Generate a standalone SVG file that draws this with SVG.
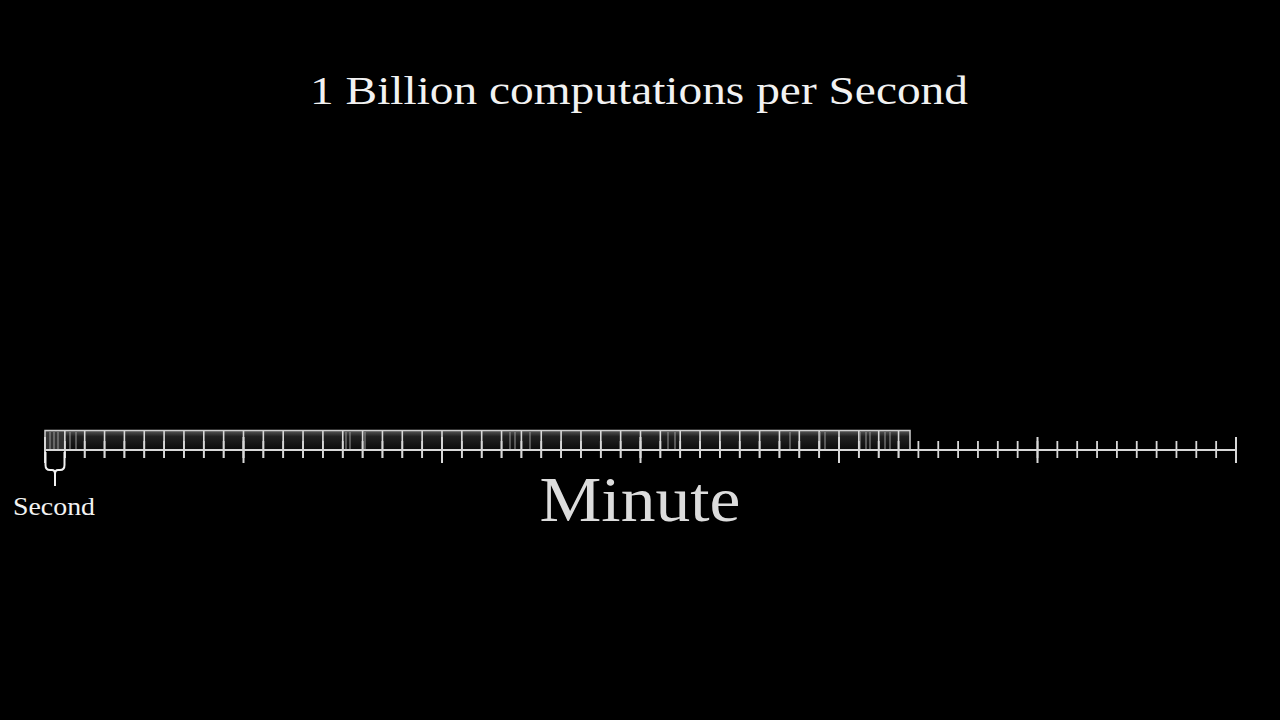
<svg xmlns="http://www.w3.org/2000/svg" width="1280" height="720" viewBox="0 0 1280 720">
<defs>
<linearGradient id="boxg" x1="0" y1="0" x2="0" y2="1">
<stop offset="0" stop-color="#5a5a5a"/>
<stop offset="0.3" stop-color="#222"/>
<stop offset="1" stop-color="#0c0c0c"/>
</linearGradient>
<style>
.txt{font-family:"Liberation Serif","DejaVu Serif",serif;fill:#f2f2f2}
.ln{stroke:#d8d8d8;fill:none}
</style>
</defs>
<rect width="1280" height="720" fill="#000"/>
<text class="txt" x="639" y="104" font-size="41" text-anchor="middle" textLength="658" lengthAdjust="spacingAndGlyphs">1 Billion computations per Second</text>
<g id="boxes">
<rect x="45" y="430.5" width="865" height="19.5" fill="url(#boxg)" stroke="#cfcfcf" stroke-width="1.5"/>
<rect x="46" y="432" width="18" height="17" fill="#3a3a3a" opacity="0.8"/>
<path class="ln" stroke-width="1.6" d="M64.85,431 v27 m19.85,-27 v27 m19.85,-27 v27 m19.85,-27 v27 m19.85,-27 v27 m19.85,-27 v27 m19.85,-27 v27 m19.85,-27 v27 m19.85,-27 v27 m19.85,-27 v27 m19.85,-27 v27 m19.85,-27 v27 m19.85,-27 v27 m19.85,-27 v27 m19.85,-27 v27 m19.85,-27 v27 m19.85,-27 v27 m19.85,-27 v27 m19.85,-27 v27 m19.85,-27 v27 m19.85,-27 v27 m19.85,-27 v27 m19.85,-27 v27 m19.85,-27 v27 m19.85,-27 v27 m19.85,-27 v27 m19.85,-27 v27 m19.85,-27 v27 m19.85,-27 v27 m19.85,-27 v27 m19.85,-27 v27 m19.85,-27 v27 m19.85,-27 v27 m19.85,-27 v27 m19.85,-27 v27 m19.85,-27 v27 m19.85,-27 v27 m19.85,-27 v27 m19.85,-27 v27 m19.85,-27 v27 m19.85,-27 v27 m19.85,-27 v27 m19.85,-27 v27"/>
<path stroke="#9a9a9a" stroke-width="1" fill="none" d="M50,432v17M54,432v17M58,432v17M70,432v17M76,432v17M346,432v17M350,432v17M365,432v17M510,432v17M515,432v17M530,432v17M668,432v17M675,432v17M790,432v17M820,432v17M825,432v17M860,432v17M866,432v17M870,432v17M885,432v17M890,432v17"/>
</g>
<g id="numberline">
<line class="ln" x1="45" y1="450" x2="1236" y2="450" stroke-width="2"/>
<path class="ln" stroke-width="1.8" d="M45,441 v17 m19.85,-17 v17 m19.85,-17 v17 m19.85,-17 v17 m19.85,-17 v17 m19.85,-17 v17 m19.85,-17 v17 m19.85,-17 v17 m19.85,-17 v17 m19.85,-17 v17 m19.85,-17 v17 m19.85,-17 v17 m19.85,-17 v17 m19.85,-17 v17 m19.85,-17 v17 m19.85,-17 v17 m19.85,-17 v17 m19.85,-17 v17 m19.85,-17 v17 m19.85,-17 v17 m19.85,-17 v17 m19.85,-17 v17 m19.85,-17 v17 m19.85,-17 v17 m19.85,-17 v17 m19.85,-17 v17 m19.85,-17 v17 m19.85,-17 v17 m19.85,-17 v17 m19.85,-17 v17 m19.85,-17 v17 m19.85,-17 v17 m19.85,-17 v17 m19.85,-17 v17 m19.85,-17 v17 m19.85,-17 v17 m19.85,-17 v17 m19.85,-17 v17 m19.85,-17 v17 m19.85,-17 v17 m19.85,-17 v17 m19.85,-17 v17 m19.85,-17 v17 m19.85,-17 v17 m19.85,-17 v17 m19.85,-17 v17 m19.85,-17 v17 m19.85,-17 v17 m19.85,-17 v17 m19.85,-17 v17 m19.85,-17 v17 m19.85,-17 v17 m19.85,-17 v17 m19.85,-17 v17 m19.85,-17 v17 m19.85,-17 v17 m19.85,-17 v17 m19.85,-17 v17 m19.85,-17 v17 m19.85,-17 v17"/>
<path class="ln" stroke-width="2" d="M45,437v26 M243.5,437v26 M442,437v26 M640.5,437v26 M839,437v26 M1037.5,437v26 M1236,437v26"/>
</g>
<g id="second-label">
<path fill="none" stroke="#f2f2f2" stroke-width="2" d="M45.5,452 V465 Q45.5,470 50,470 L52,470 Q55,470 55,474 V486 M64.5,452 V465 Q64.5,470 60,470 L58,470 Q55,470 55,474"/>
<text class="txt" x="54" y="515" font-size="26" text-anchor="middle" textLength="82" lengthAdjust="spacingAndGlyphs">Second</text>
</g>
<g id="minute-label">
<text x="640" y="521" font-size="64" text-anchor="middle" font-family="Liberation Serif, DejaVu Serif, serif" fill="#dcdcdc" textLength="201" lengthAdjust="spacingAndGlyphs">Minute</text>
</g>
</svg>
